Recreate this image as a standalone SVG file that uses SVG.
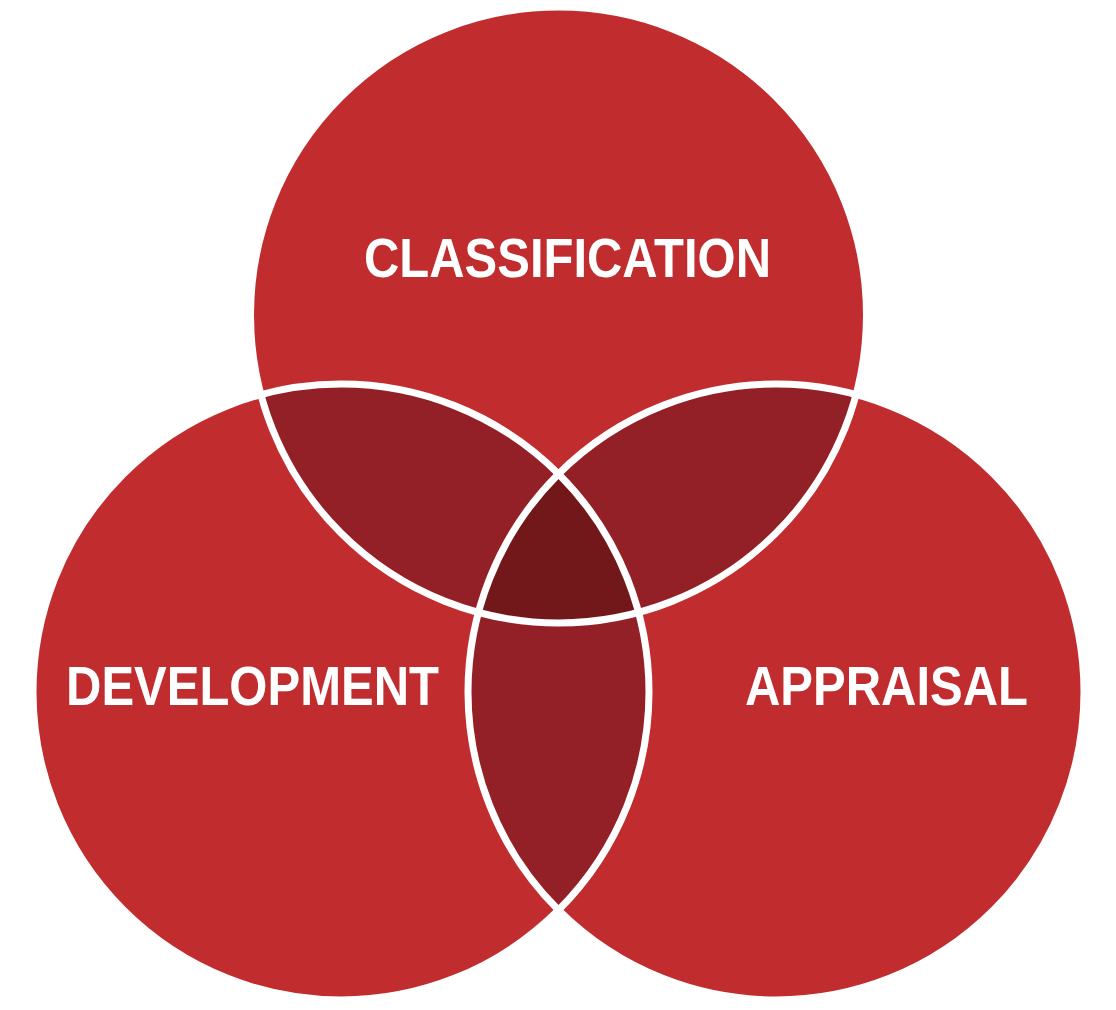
<svg xmlns="http://www.w3.org/2000/svg" width="1116" height="1010" viewBox="0 0 1116 1010">
  <style>
    .fill { fill: #C12D2E; }
    .pair { fill: #922026; }
    .triple { fill: #73181A; }
    .ring { fill: none; stroke: #FFFFFF; stroke-width: 7; }
    .label { fill: #FFFFFF; font-family: "Liberation Sans", Arial, sans-serif; font-weight: bold; font-size: 55px; }
  </style>
  <defs>
    <circle id="cTop" cx="558.5" cy="315" r="308"/>
    <circle id="cLeft" cx="341" cy="692" r="308"/>
    <circle id="cRight" cx="776" cy="692" r="308"/>
    <clipPath id="clipTop"><use href="#cTop"/></clipPath>
    <clipPath id="clipLeft"><use href="#cLeft"/></clipPath>
    <clipPath id="clipRight"><use href="#cRight"/></clipPath>
  </defs>
  <rect width="1116" height="1010" fill="#FFFFFF"/>

  <g id="classification">
    <use href="#cTop" class="fill"/>
  </g>
  <g id="development">
    <use href="#cLeft" class="fill"/>
  </g>
  <g id="appraisal">
    <use href="#cRight" class="fill"/>
  </g>

  <g id="overlaps">
    <g clip-path="url(#clipTop)"><use href="#cLeft" class="pair"/></g>
    <g clip-path="url(#clipTop)"><use href="#cRight" class="pair"/></g>
    <g clip-path="url(#clipLeft)"><use href="#cRight" class="pair"/></g>
    <g clip-path="url(#clipTop)"><g clip-path="url(#clipLeft)"><use href="#cRight" class="triple"/></g></g>
  </g>

  <g id="outlines">
    <use href="#cTop" class="ring"/>
    <use href="#cLeft" class="ring"/>
    <use href="#cRight" class="ring"/>
  </g>

  <g id="labels">
    <text class="label" x="364" y="277" textLength="407" lengthAdjust="spacingAndGlyphs">CLASSIFICATION</text>
    <text class="label" x="66" y="705" textLength="373" lengthAdjust="spacingAndGlyphs">DEVELOPMENT</text>
    <text class="label" x="745" y="705" textLength="283" lengthAdjust="spacingAndGlyphs">APPRAISAL</text>
  </g>
</svg>
